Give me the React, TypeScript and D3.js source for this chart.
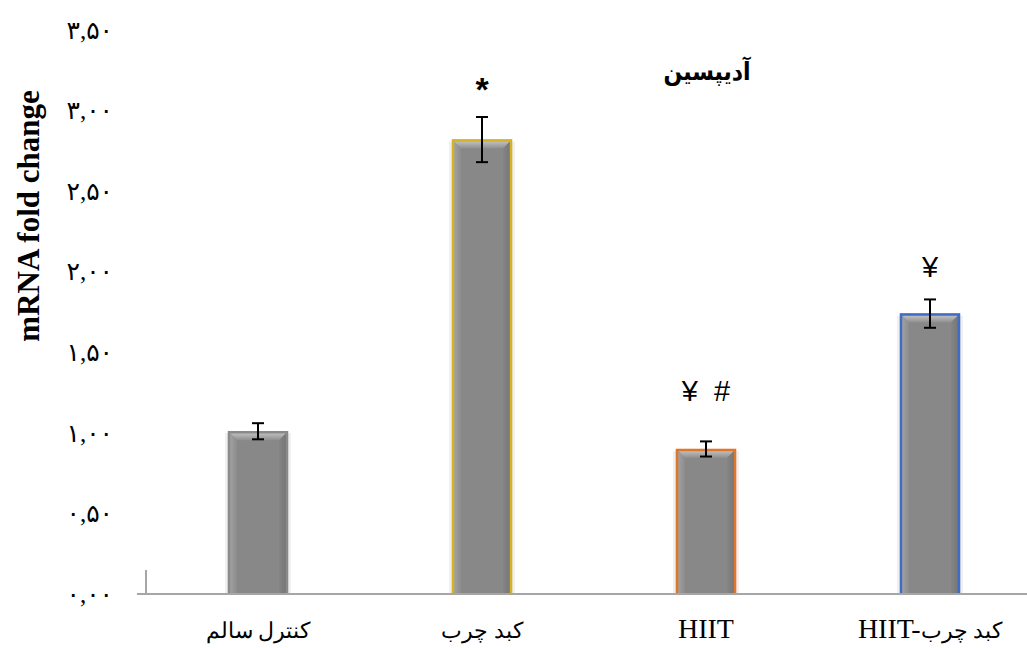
import React, { useEffect, useRef } from "react";
import * as d3 from "d3";

const categories: string[] = ["کنترل سالم", "کبد چرب", "HIIT", "HIIT-کبد چرب"];
const labelLatin: string[] = ["", "", "HIIT", "HIIT-"];
const labelPersian: string[] = ["کنترل سالم", "کبد چرب", "", "کبد چرب"];
const values: number[] = [1.01, 2.82, 0.9, 1.74];
const errors: number[] = [0.05, 0.14, 0.047, 0.088];
const borderColors: string[] = ["#8a8a8a", "#d6b324", "#e0762a", "#3f6cc4"];
const markers: string[] = ["", "*", "¥  #", "¥"];
const markerLevels: number[] = [0, 3.06, 1.2, 1.97];
const yTicks: number[] = [0, 0.5, 1, 1.5, 2, 2.5, 3, 3.5];
const yTickLabels: string[] = ["۰,۰۰", "۰,۵۰", "۱,۰۰", "۱,۵۰", "۲,۰۰", "۲,۵۰", "۳,۰۰", "۳,۵۰"];
const title = "آدیپسین";
const yTitle = "mRNA fold change";

const W = 1027;
const H = 648;

export default function App() {
  const ref = useRef<SVGSVGElement | null>(null);

  useEffect(() => {
    const svg = d3.select(ref.current);
    svg.selectAll("*").remove();

    const y = d3.scaleLinear().domain([0, 3.5]).range([594, 30]);
    const x = d3
      .scaleBand<string>()
      .domain(categories)
      .range([146, 1042])
      .paddingInner(0.732)
      .paddingOuter(0.366);

    const defs = svg.append("defs");
    const gTop = defs.append("linearGradient").attr("id", "bevTop").attr("x1", 0).attr("y1", 0).attr("x2", 0).attr("y2", 1);
    gTop.append("stop").attr("offset", "0%").attr("stop-color", "#cdcdcd");
    gTop.append("stop").attr("offset", "100%").attr("stop-color", "#8e8e8e");
    const gLeft = defs.append("linearGradient").attr("id", "bevLeft").attr("x1", 0).attr("y1", 0).attr("x2", 1).attr("y2", 0);
    gLeft.append("stop").attr("offset", "0%").attr("stop-color", "#a8a8a8");
    gLeft.append("stop").attr("offset", "100%").attr("stop-color", "#8c8c8c");
    const gRight = defs.append("linearGradient").attr("id", "bevRight").attr("x1", 0).attr("y1", 0).attr("x2", 1).attr("y2", 0);
    gRight.append("stop").attr("offset", "0%").attr("stop-color", "#858585");
    gRight.append("stop").attr("offset", "100%").attr("stop-color", "#727272");

    // y tick labels
    svg
      .append("g")
      .selectAll("text")
      .data(yTicks)
      .join("text")
      .attr("x", 113)
      .attr("y", (d) => y(d))
      .attr("dy", "0.35em")
      .attr("text-anchor", "end")
      .attr("font-family", "'Times New Roman', 'Liberation Serif', 'DejaVu Sans', serif")
      .attr("font-size", 25)
      .attr("fill", "#000")
      .text((d, i) => yTickLabels[i]);

    // y title
    svg
      .append("text")
      .attr("transform", `translate(39, 216) rotate(-90)`)
      .attr("text-anchor", "middle")
      .attr("font-family", "'Times New Roman', 'Liberation Serif', serif")
      .attr("font-weight", "bold")
      .attr("font-size", 31)
      .attr("fill", "#000")
      .text(yTitle);

    // bars
    const bev = 9;
    const bars = svg.append("g");
    categories.forEach((c, i) => {
      const x0 = x(c) as number;
      const bw = x.bandwidth();
      const x1 = x0 + bw;
      const yt = y(values[i]);
      const yb = y(0);
      const g = bars.append("g");
      g.append("rect").attr("x", x0 - 3).attr("y", yt + 2).attr("width", bw + 6).attr("height", yb - yt - 2).attr("fill", "#000").attr("opacity", 0.06);
      g.append("rect").attr("x", x0).attr("y", yt).attr("width", bw).attr("height", yb - yt).attr("fill", "#888888");
      g.append("path").attr("d", `M${x0},${yt}L${x1},${yt}L${x1 - bev},${yt + bev}L${x0 + bev},${yt + bev}Z`).attr("fill", "url(#bevTop)");
      g.append("path").attr("d", `M${x0},${yt}L${x0 + bev},${yt + bev}L${x0 + bev},${yb}L${x0},${yb}Z`).attr("fill", "url(#bevLeft)");
      g.append("path").attr("d", `M${x1},${yt}L${x1 - bev},${yt + bev}L${x1 - bev},${yb}L${x1},${yb}Z`).attr("fill", "url(#bevRight)");
      g.append("path")
        .attr("d", `M${x0 + 1},${yb}L${x0 + 1},${yt + 1}L${x1 - 1},${yt + 1}L${x1 - 1},${yb}`)
        .attr("fill", "none")
        .attr("stroke", borderColors[i])
        .attr("stroke-width", 2.5);
    });

    // axis line
    svg.append("line").attr("x1", 137).attr("x2", W).attr("y1", y(0)).attr("y2", y(0)).attr("stroke", "#a6a6a6").attr("stroke-width", 2);
    svg.append("line").attr("x1", 146).attr("x2", 146).attr("y1", y(0) - 24).attr("y2", y(0)).attr("stroke", "#a6a6a6").attr("stroke-width", 2);

    // error bars
    const eb = svg.append("g").attr("stroke", "#000").attr("stroke-width", 2);
    categories.forEach((c, i) => {
      const cx = (x(c) as number) + x.bandwidth() / 2;
      const hi = y(values[i] + errors[i]);
      const lo = y(values[i] - errors[i]);
      eb.append("line").attr("x1", cx).attr("x2", cx).attr("y1", hi).attr("y2", lo);
      eb.append("line").attr("x1", cx - 6).attr("x2", cx + 6).attr("y1", hi).attr("y2", hi);
      eb.append("line").attr("x1", cx - 6).attr("x2", cx + 6).attr("y1", lo).attr("y2", lo);
    });

    // markers
    svg
      .append("g")
      .selectAll("text")
      .data(categories)
      .join("text")
      .attr("x", (c) => (x(c) as number) + x.bandwidth() / 2)
      .attr("y", (c, i) => y(markerLevels[i]))
      .attr("text-anchor", "middle")
      .attr("font-family", "'Liberation Sans', Arial, sans-serif")
      .attr("font-size", (c, i) => (markers[i] === "*" ? 34 : 29))
      .attr("font-weight", (c, i) => (markers[i] === "*" ? "bold" : "normal"))
      .style("white-space", "pre")
      .attr("fill", "#000")
      .text((c, i) => markers[i]);

    // x labels
    const xl = svg
      .append("g")
      .selectAll("text")
      .data(categories)
      .join("text")
      .attr("x", (c) => (x(c) as number) + x.bandwidth() / 2)
      .attr("y", 638)
      .attr("text-anchor", "middle")
      .attr("font-family", "'Times New Roman', 'Liberation Serif', 'DejaVu Sans', serif")
      .attr("fill", "#000");
    xl.append("tspan").attr("font-size", 28).text((c, i) => labelLatin[i]);
    xl.append("tspan").attr("font-size", 22).attr("font-weight", 300).text((c, i) => labelPersian[i]);

    // title
    svg
      .append("text")
      .attr("transform", "translate(707, 80) scale(0.88, 1)")
      .attr("text-anchor", "middle")
      .attr("font-family", "'DejaVu Sans', sans-serif")
      .attr("font-weight", "bold")
      .attr("font-size", 25)
      .attr("fill", "#000")
      .text(title);
  }, []);

  return (
    <svg
      ref={ref}
      width={W}
      height={H}
      style={{ position: "absolute", left: 0, top: 0, background: "#fff" }}
    />
  );
}
